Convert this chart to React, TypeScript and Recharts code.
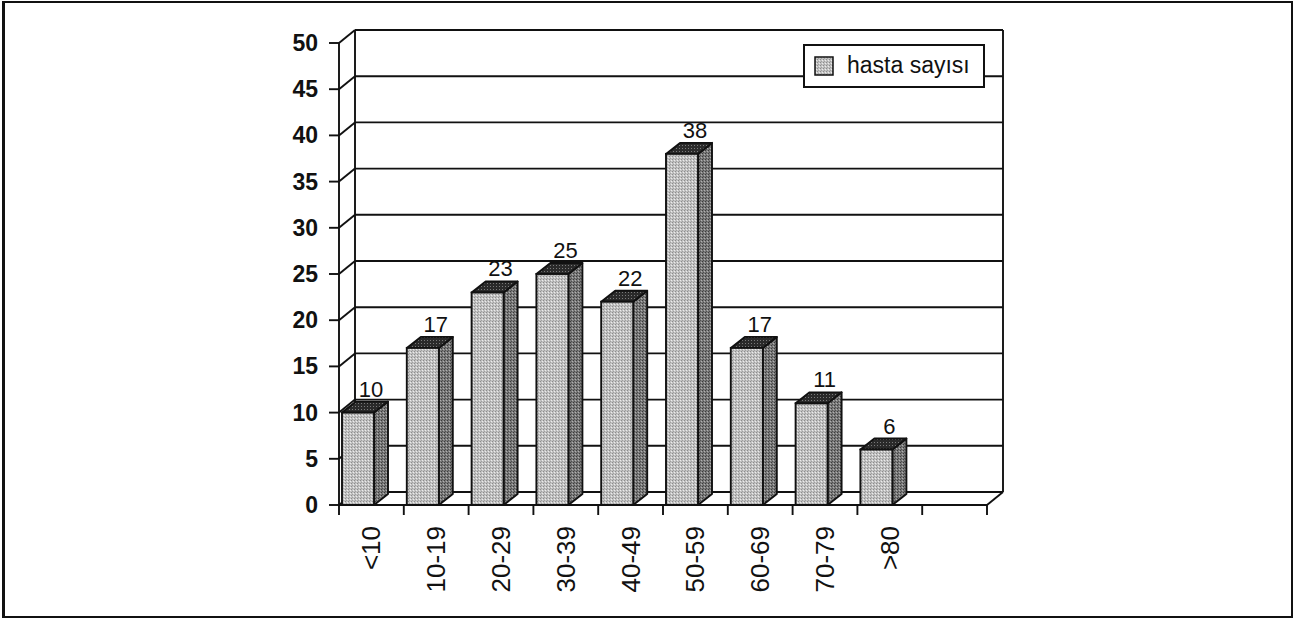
import React from 'react';
import { BarChart, Bar, XAxis, YAxis, CartesianGrid, ReferenceArea, LabelList } from 'recharts';

const categories = ['<10', '10-19', '20-29', '30-39', '40-49', '50-59', '60-69', '70-79', '>80', ''];
const counts: (number | null)[] = [10, 17, 23, 25, 22, 38, 17, 11, 6, null];
const yTicks = [0, 5, 10, 15, 20, 25, 30, 35, 40, 45, 50];
const seriesName = 'hasta sayısı';

const data = categories.map((c, i) => ({ cat: c, value: counts[i] }));

const FONT = '"Liberation Sans", Arial, Helvetica, sans-serif';
const WDX = 16; // wall depth
const WDY = 13;
const BDX = 14; // bar depth
const BDY = 11;
const SHIFT = -13;
const LINE = '#111';
const SW = 1.9;

const Bar3D = (props: any) => {
  const { x, y, width, height } = props;
  if (height == null || isNaN(height) || height <= 0) return null;
  const fx = x + SHIFT;
  const w = width;
  const top = `${fx},${y} ${fx + BDX},${y - BDY} ${fx + w + BDX},${y - BDY} ${fx + w},${y}`;
  const side = `${fx + w},${y} ${fx + w + BDX},${y - BDY} ${fx + w + BDX},${y + height - BDY} ${fx + w},${y + height}`;
  return (
    <g>
      <polygon points={side} fill="url(#sidePat)" stroke={LINE} strokeWidth={SW} strokeLinejoin="round" />
      <polygon points={top} fill="url(#topPat)" stroke={LINE} strokeWidth={SW} strokeLinejoin="round" />
      <rect x={fx} y={y} width={w} height={height} fill="url(#frontPat)" stroke={LINE} strokeWidth={SW} />
    </g>
  );
};

const BarLabel = (props: any) => {
  const { x, y, width, value } = props;
  if (value == null) return null;
  return (
    <text x={x + width / 2} y={y - 16} textAnchor="middle" fontFamily={FONT} fontSize={22} fill="#111">
      {value}
    </text>
  );
};

const gridLine = (props: any) => {
  const { x1, y1, x2 } = props;
  return (
    <g key={`g-${y1}`}>
      <line x1={x1} y1={y1} x2={x1 + WDX} y2={y1 - WDY} stroke={LINE} strokeWidth={SW} />
      <line x1={x1 + WDX} y1={y1 - WDY} x2={x2 + WDX} y2={y1 - WDY} stroke={LINE} strokeWidth={SW} />
    </g>
  );
};

const Walls = (props: any) => {
  const { x, y, width, height } = props;
  return (
    <g>
      <line x1={x + WDX} y1={y - WDY} x2={x + WDX} y2={y + height - WDY} stroke={LINE} strokeWidth={SW} />
      <line x1={x + width + WDX} y1={y - WDY} x2={x + width + WDX} y2={y + height - WDY} stroke={LINE} strokeWidth={SW} />
      <line x1={x + width} y1={y + height} x2={x + width + WDX} y2={y + height - WDY} stroke={LINE} strokeWidth={SW} />
    </g>
  );
};

const XTick = (props: any) => {
  const { x, y, payload, index } = props;
  const off = payload && typeof payload.offset === 'number' && payload.offset > 0 ? payload.offset : 32.4;
  const last = index === categories.length - 1;
  return (
    <g>
      <line x1={x - off} y1={y} x2={x - off} y2={y + 10} stroke={LINE} strokeWidth={SW} />
      {last && <line x1={x + off} y1={y} x2={x + off} y2={y + 10} stroke={LINE} strokeWidth={SW} />}
      <text
        x={x}
        y={y + 21}
        transform={`rotate(-90, ${x}, ${y + 21})`}
        textAnchor="end"
        dominantBaseline="central"
        fontFamily={FONT}
        fontSize={26}
        fill="#111"
      >
        {payload.value}
      </text>
    </g>
  );
};

const YTick = (props: any) => {
  const { x, y, payload } = props;
  return (
    <text x={x} y={y} textAnchor="end" dominantBaseline="central" fontFamily={FONT} fontSize={23} fontWeight="bold" fill="#111">
      {payload.value}
    </text>
  );
};

export default function App() {
  return (
    <div style={{ position: 'absolute', left: 0, top: 0, width: 1302, height: 625, background: '#fff' }}>
      <svg width={0} height={0} style={{ position: 'absolute' }}>
        <defs>
          <pattern id="frontPat" width={3} height={3} patternUnits="userSpaceOnUse">
            <rect width={3} height={3} fill="#c2c2c2" />
            <rect x={0} y={0} width={1} height={1} fill="#8c8c8c" />
            <rect x={2} y={1} width={1} height={1} fill="#ececec" />
            <rect x={1} y={2} width={1} height={1} fill="#a0a0a0" />
          </pattern>
          <pattern id="sidePat" width={3} height={3} patternUnits="userSpaceOnUse">
            <rect width={3} height={3} fill="#7a7a7a" />
            <rect x={0} y={0} width={1} height={1} fill="#3c3c3c" />
            <rect x={2} y={1} width={1} height={1} fill="#b0b0b0" />
            <rect x={1} y={2} width={1} height={1} fill="#505050" />
          </pattern>
          <pattern id="topPat" width={3} height={3} patternUnits="userSpaceOnUse">
            <rect width={3} height={3} fill="#2a2a2a" />
            <rect x={1} y={1} width={1} height={1} fill="#7a7a7a" />
          </pattern>
        </defs>
      </svg>
      <BarChart
        width={1302}
        height={625}
        data={data}
        margin={{ top: 43, right: 315, bottom: 20, left: 279 }}
        barSize={32}
      >
        <CartesianGrid vertical={false} horizontal={gridLine} stroke={LINE} />
        <ReferenceArea y1={0} y2={50} zIndex={-90} shape={Walls} ifOverflow="visible" />
        <XAxis
          dataKey="cat"
          interval={0}
          tickLine={false}
          tickSize={0}
          tickMargin={0}
          height={100}
          axisLine={{ stroke: LINE, strokeWidth: SW }}
          tick={<XTick />}
        />
        <YAxis
          domain={[0, 50]}
          ticks={yTicks}
          interval={0}
          width={60}
          tickSize={10}
          tickMargin={11}
          axisLine={{ stroke: LINE, strokeWidth: SW }}
          tickLine={{ stroke: LINE, strokeWidth: SW }}
          tick={<YTick />}
        />
        <Bar dataKey="value" name={seriesName} shape={<Bar3D />} isAnimationActive={false}>
          <LabelList dataKey="value" content={<BarLabel />} />
        </Bar>
      </BarChart>
      <div
        style={{
          position: 'absolute',
          left: 803,
          top: 44,
          width: 182,
          height: 44,
          boxSizing: 'border-box',
          border: '2px solid #111',
          background: '#fff',
          fontFamily: FONT,
          fontSize: 23,
          color: '#111',
        }}
      >
        <svg width={20} height={20} style={{ position: 'absolute', left: 9, top: 10 }}>
          <rect x={1} y={1} width={18} height={18} fill="url(#frontPat)" stroke="#111" strokeWidth={1.5} />
        </svg>
        <span style={{ position: 'absolute', left: 42, top: 6, whiteSpace: 'nowrap' }}>{seriesName}</span>
      </div>
      <div
        style={{
          position: 'absolute',
          left: 2,
          top: 1,
          width: 1291,
          height: 617,
          boxSizing: 'border-box',
          borderTop: '2px solid #111',
          borderRight: '2px solid #111',
          borderBottom: '2px solid #111',
          borderLeft: '3px solid #111',
          pointerEvents: 'none',
        }}
      />
    </div>
  );
}
